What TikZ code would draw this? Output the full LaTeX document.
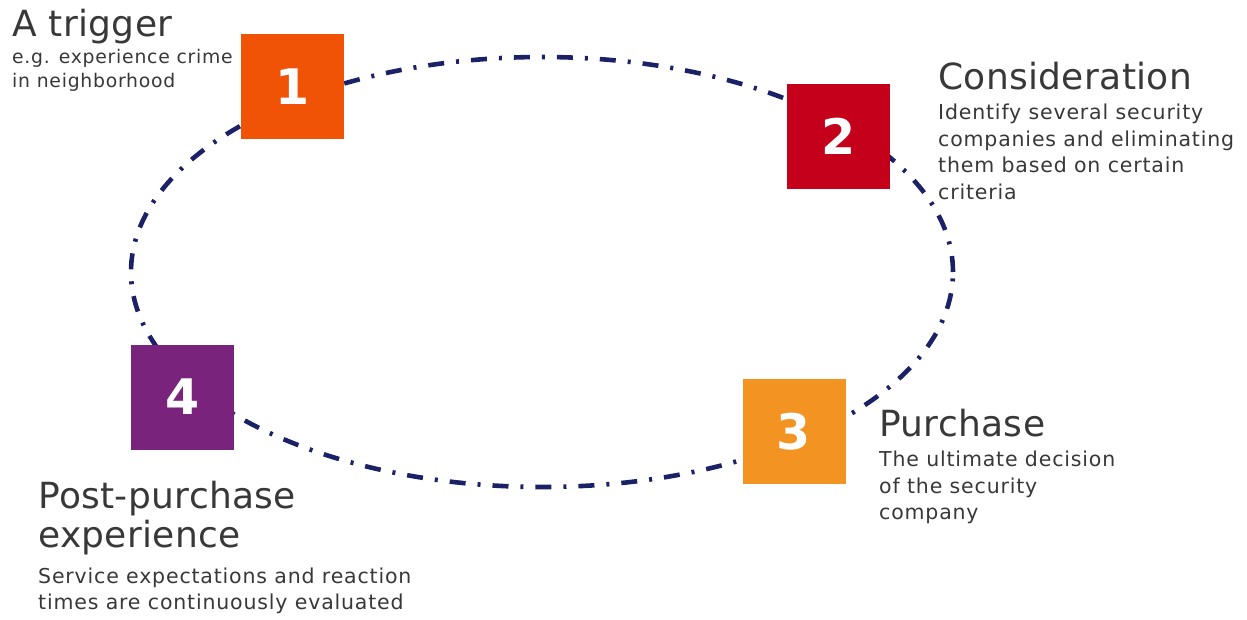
\documentclass[tikz,border=0pt]{standalone}
\usepackage{fontspec}
\setmainfont{DejaVu Sans}
\newfontfamily\bodyfont[LetterSpace=4]{DejaVu Sans}
\newfontfamily\titlefont[LetterSpace=1]{DejaVu Sans}
\definecolor{navy}{HTML}{1B2166}
\definecolor{cone}{HTML}{F05206}
\definecolor{ctwo}{HTML}{C5001A}
\definecolor{cthree}{HTML}{F39322}
\definecolor{cfour}{HTML}{7A237D}
\definecolor{txt}{HTML}{383838}
\tikzset{
  numbox/.style={minimum width=103pt, minimum height=105pt, inner sep=0pt, text=white,
    font=\fontsize{49}{49}\selectfont\bfseries},
  ttl/.style={anchor=base west, inner sep=0pt, text=txt, font=\titlefont\fontsize{36}{38}\selectfont},
  body/.style={anchor=base west, inner sep=0pt, text=txt, font=\bodyfont\fontsize{20.5}{26}\selectfont},
  smallbody/.style={body, font=\bodyfont\fontsize{18.8}{24}\selectfont},
  cycle/.style={draw=navy, line width=4.6pt, dash pattern=on 16pt off 12pt on 3pt off 12pt}
}
\begin{document}
\begin{tikzpicture}[x=1pt,y=-1pt]
\useasboundingbox (0,0) rectangle (1247,619);
\draw[cycle] (542,272) ellipse [x radius=411pt, y radius=215pt];
\node[numbox, fill=cone]   (b1) at (292.5,86.5) {1};
\node[numbox, fill=ctwo]   (b2) at (838.5,136)  {2};
\node[numbox, fill=cthree] (b3) at (794,431.5)  {3};
\node[numbox, fill=cfour]  (b4) at (182.5,397)  {4};
% 1
\node[ttl]  (t1)  at (12,36) {A trigger};
\node[smallbody] (t1a) at (12,63) {e.g. experience crime};
\node[smallbody] (t1b) at (12,87) {in neighborhood};
% 2
\node[ttl]  (t2)  at (938,89)  {Consideration};
\node[body] (t2a) at (938,119) {Identify several security};
\node[body] (t2b) at (938,146) {companies and eliminating};
\node[body] (t2c) at (938,172) {them based on certain};
\node[body] (t2d) at (938,199) {criteria};
% 3
\node[ttl]  (t3)  at (879,436) {Purchase};
\node[body] (t3a) at (879,466) {The ultimate decision};
\node[body] (t3b) at (879,493) {of the security};
\node[body] (t3c) at (879,519) {company};
% 4
\node[ttl]  (t4)  at (38,508) {Post-purchase};
\node[ttl]  (t4a) at (38,547) {experience};
\node[body] (t4b) at (38,583) {Service expectations and reaction};
\node[body] (t4c) at (38,609) {times are continuously evaluated};
\end{tikzpicture}
\end{document}
